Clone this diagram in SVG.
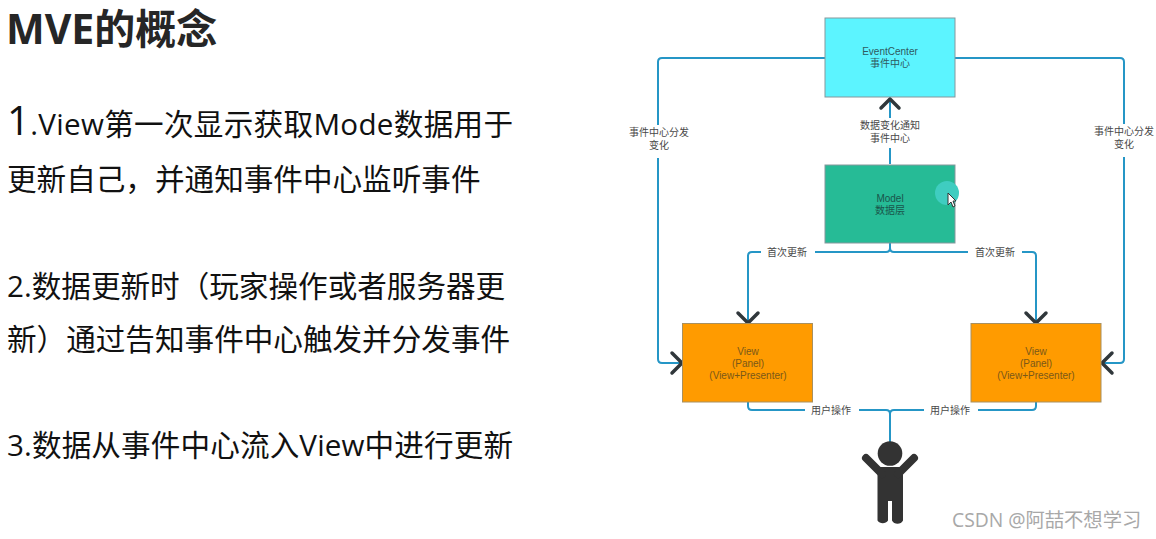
<svg xmlns="http://www.w3.org/2000/svg" width="1156" height="539" viewBox="0 0 1156 539">
<style>
text{font-family:"Open Sans","Noto Sans CJK SC",sans-serif}
.h{font-size:41px;font-weight:700;fill:#262626}
.b{font-size:29.6px;fill:#111}
.n,.l{font-family:"Liberation Sans","Noto Sans CJK SC",sans-serif;font-size:10px;text-anchor:middle}
.l{fill:#484848}
.n{fill:#2f5a60}
.m{fill:#1a554b}
.v{fill:#7a5818}
.box{stroke:#86979c;stroke-width:1}
.vb{stroke:#a89060;stroke-width:1;fill:#ff9b00}
.c{fill:none;stroke:#2596c6;stroke-width:2}
.a{fill:none;stroke:#30373b;stroke-width:3.5;stroke-linecap:round;stroke-linejoin:miter}
.bg{fill:#fff}
</style>
<rect width="1156" height="539" fill="#fff"/>
<g id="slide-text">
<text class="h" x="6" y="44">MVE的概念</text>
<text class="b" x="7" y="135" textLength="506"><tspan font-size="40">1</tspan>.View第一次显示获取Mode数据用于</text>
<text class="b" x="7" y="190">更新自己，并通知事件中心监听事件</text>
<text class="b" x="7" y="297">2.数据更新时（玩家操作或者服务器更</text>
<text class="b" x="7" y="350">新）通过告知事件中心触发并分发事件</text>
<text class="b" x="7" y="456" textLength="506">3.数据从事件中心流入View中进行更新</text>
</g>
<g id="connectors">
<path class="c" d="M825 58H662Q658 58 658 62V359Q658 363 662 363H682"/>
<path class="c" d="M955 58H1120Q1124 58 1124 62V359Q1124 363 1120 363H1102"/>
<path class="c" d="M890 164V99"/>
<path class="c" d="M890 243V248Q890 252 886 252H752Q748 252 748 256V323"/>
<path class="c" d="M890 243V248Q890 252 894 252H1032Q1036 252 1036 256V323"/>
<path class="c" d="M748 402V406Q748 410 752 410H886Q890 410 890 414V442"/>
<path class="c" d="M1036 402V406Q1036 410 1032 410H894Q890 410 890 414"/>
<path class="a" d="M881 108L890 99L899 108"/>
<path class="a" d="M738 313L748 323L758 313"/>
<path class="a" d="M1026 313L1036 323L1046 313"/>
<path class="a" d="M672 353L682 363L672 373"/>
<path class="a" d="M1112 353L1102 363L1112 373"/>
<rect class="bg" x="626" y="125" width="64" height="33"/>
<text class="l" x="659" y="136">事件中心分发</text><text class="l" x="659" y="149">变化</text>
<rect class="bg" x="1092" y="124" width="64" height="33"/>
<text class="l" x="1124" y="135">事件中心分发</text><text class="l" x="1124" y="148">变化</text>
<rect class="bg" x="858" y="118" width="64" height="30"/>
<text class="l" x="890" y="129">数据变化通知</text><text class="l" x="890" y="142">事件中心</text>
<rect class="bg" x="761" y="246" width="54" height="12"/>
<text class="l" x="787" y="256">首次更新</text>
<rect class="bg" x="968" y="246" width="54" height="12"/>
<text class="l" x="995" y="256">首次更新</text>
<rect class="bg" x="805" y="404" width="54" height="12"/>
<text class="l" x="831" y="414">用户操作</text>
<rect class="bg" x="924" y="404" width="54" height="12"/>
<text class="l" x="950" y="414">用户操作</text>
</g>
<g id="event-center">
<rect class="box" x="825" y="18" width="130" height="79" fill="#5cf4ff"/>
<text class="n" x="890" y="55">EventCenter</text><text class="n" x="890" y="67">事件中心</text>
</g>
<g id="model">
<rect class="box" x="825" y="165" width="130" height="78" fill="#26bb96"/>
<text class="n m" x="890" y="202">Model</text><text class="n m" x="890" y="214">数据层</text>
<circle cx="947" cy="193" r="12" fill="#3fcdc0"/>
<path d="M948 193V205L951 202L953 207L955 206L953 201L956 201Z" fill="#fff" stroke="#333" stroke-width="1"/>
</g>
<g id="view-left">
<rect class="vb" x="682.500" y="323.500" width="130" height="78.500"/>
<text class="n v" x="748" y="355">View</text><text class="n v" x="748" y="367">(Panel)</text><text class="n v" x="748" y="379">(View+Presenter)</text>
</g>
<g id="view-right">
<rect class="vb" x="971" y="323.500" width="130" height="78.500"/>
<text class="n v" x="1036" y="355">View</text><text class="n v" x="1036" y="367">(Panel)</text><text class="n v" x="1036" y="379">(View+Presenter)</text>
</g>
<g id="user" fill="#333">
<circle cx="890" cy="453.500" r="12.300"/>
<path d="M877.500 467H903V520.500A6.300 6.300 0 0 1 892 520.500V501H888V520.500A6.300 6.300 0 0 1 877.500 520.500Z"/>
<path d="M866 458L882 474M914 458L898 474" fill="none" stroke="#333" stroke-width="8" stroke-linecap="round"/>
</g>
<text id="watermark" x="952" y="527" font-size="19.300" fill="#a8a8a8">CSDN @阿喆不想学习</text>
</svg>
